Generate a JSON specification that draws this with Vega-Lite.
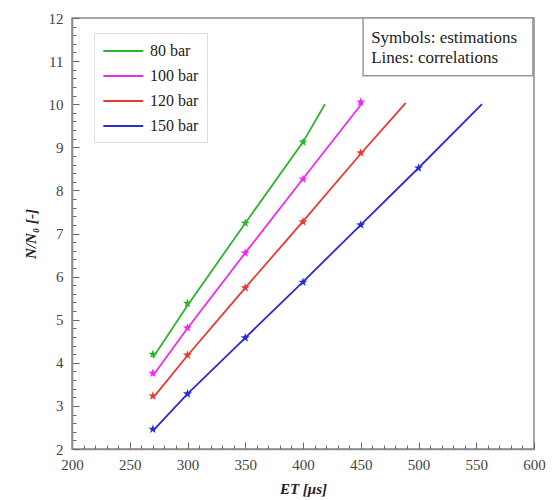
{
  "$schema": "https://vega.github.io/schema/vega-lite/v6.json",
  "width": 462,
  "height": 431,
  "autosize": {"type": "none"},
  "padding": {"left": 72, "top": 18, "right": 18, "bottom": 51},
  "background": "white",
  "config": {
    "font": "Times New Roman, Liberation Serif, DejaVu Serif, serif",
    "view": {"stroke": "#8a8a8a", "strokeWidth": 1.5},
    "axis": {
      "labelFont": "Times New Roman, Liberation Serif, DejaVu Serif, serif",
      "labelFontSize": 15,
      "labelColor": "#444",
      "titleFont": "Times New Roman, Liberation Serif, DejaVu Serif, serif",
      "titleFontSize": 15,
      "titleColor": "#222",
      "domainColor": "#8a8a8a",
      "domainWidth": 1.5,
      "tickColor": "#666",
      "tickWidth": 1,
      "grid": false
    },
    "legend": {
      "labelFont": "Times New Roman, Liberation Serif, DejaVu Serif, serif",
      "labelFontSize": 16,
      "labelColor": "#222"
    },
    "text": {"font": "Times New Roman, Liberation Serif, DejaVu Serif, serif"}
  },
  "datasets": {
    "corr": [
      {"series": "80 bar", "ET": 270, "N": 4.12},
      {"series": "80 bar", "ET": 300, "N": 5.33},
      {"series": "80 bar", "ET": 350, "N": 7.24},
      {"series": "80 bar", "ET": 400, "N": 9.12},
      {"series": "80 bar", "ET": 419, "N": 10.0},
      {"series": "100 bar", "ET": 270, "N": 3.7},
      {"series": "100 bar", "ET": 300, "N": 4.8},
      {"series": "100 bar", "ET": 350, "N": 6.55},
      {"series": "100 bar", "ET": 400, "N": 8.27},
      {"series": "100 bar", "ET": 452, "N": 10.05},
      {"series": "120 bar", "ET": 270, "N": 3.18},
      {"series": "120 bar", "ET": 300, "N": 4.17},
      {"series": "120 bar", "ET": 350, "N": 5.74},
      {"series": "120 bar", "ET": 400, "N": 7.28},
      {"series": "120 bar", "ET": 450, "N": 8.85},
      {"series": "120 bar", "ET": 489, "N": 10.03},
      {"series": "150 bar", "ET": 270, "N": 2.42},
      {"series": "150 bar", "ET": 300, "N": 3.28},
      {"series": "150 bar", "ET": 350, "N": 4.58},
      {"series": "150 bar", "ET": 400, "N": 5.88},
      {"series": "150 bar", "ET": 450, "N": 7.2},
      {"series": "150 bar", "ET": 500, "N": 8.52},
      {"series": "150 bar", "ET": 555, "N": 10.0}
    ],
    "est": [
      {"series": "80 bar", "ET": 270, "N": 4.2},
      {"series": "80 bar", "ET": 300, "N": 5.38},
      {"series": "80 bar", "ET": 350, "N": 7.24},
      {"series": "80 bar", "ET": 400, "N": 9.12},
      {"series": "100 bar", "ET": 270, "N": 3.76},
      {"series": "100 bar", "ET": 300, "N": 4.81},
      {"series": "100 bar", "ET": 350, "N": 6.55},
      {"series": "100 bar", "ET": 400, "N": 8.26},
      {"series": "100 bar", "ET": 450, "N": 10.05},
      {"series": "120 bar", "ET": 270, "N": 3.23},
      {"series": "120 bar", "ET": 300, "N": 4.18},
      {"series": "120 bar", "ET": 350, "N": 5.74},
      {"series": "120 bar", "ET": 400, "N": 7.27},
      {"series": "120 bar", "ET": 450, "N": 8.87},
      {"series": "150 bar", "ET": 270, "N": 2.46},
      {"series": "150 bar", "ET": 300, "N": 3.28},
      {"series": "150 bar", "ET": 350, "N": 4.58},
      {"series": "150 bar", "ET": 400, "N": 5.87},
      {"series": "150 bar", "ET": 450, "N": 7.2},
      {"series": "150 bar", "ET": 500, "N": 8.52}
    ],
    "box": [
      {"x1": 452, "x2": 599, "y1": 10.66, "y2": 12}
    ],
    "note": [
      {"ET": 459, "N": 11.53, "text": "Symbols: estimations"},
      {"ET": 459, "N": 11.07, "text": "Lines: correlations"}
    ]
  },
  "layer": [
    {
      "data": {"name": "corr"},
      "mark": {"type": "line", "strokeWidth": 1.8},
      "encoding": {
        "x": {
          "field": "ET", "type": "quantitative",
          "scale": {"domain": [200, 600], "nice": false, "zero": false},
          "axis": {
            "title": "ET [μs]",
            "titleFontWeight": "bold",
            "titleFontStyle": "italic",
            "titlePadding": 6,
            "labelOverlap": false,
            "labelFlush": false,
            "ticks": true,
            "tickCount": 200,
            "values": [200,210,220,230,240,250,260,270,280,290,300,310,320,330,340,350,360,370,380,390,400,410,420,430,440,450,460,470,480,490,500,510,520,530,540,550,560,570,580,590,600],
            "labelExpr": "datum.value % 50 === 0 ? datum.label : ''",
            "tickSize": {"condition": {"test": "datum.value % 50 === 0", "value": -7}, "value": -4},
            "labelPadding": 15
          }
        },
        "y": {
          "field": "N", "type": "quantitative",
          "scale": {"domain": [2, 12], "nice": false, "zero": false},
          "axis": {
            "title": "N/N₀ [-]",
            "titleFontWeight": "bold",
            "titleFontStyle": "italic",
            "titlePadding": 10,
            "labelOverlap": false,
            "ticks": true,
            "tickCount": 200,
            "values": [2,2.2,2.4,2.6,2.8,3,3.2,3.4,3.6,3.8,4,4.2,4.4,4.6,4.8,5,5.2,5.4,5.6,5.8,6,6.2,6.4,6.6,6.8,7,7.2,7.4,7.6,7.8,8,8.2,8.4,8.6,8.8,9,9.2,9.4,9.6,9.8,10,10.2,10.4,10.6,10.8,11,11.2,11.4,11.6,11.8,12],
            "labelExpr": "abs(datum.value - round(datum.value)) < 0.01 ? format(datum.value, 'd') : ''",
            "tickSize": {"condition": {"test": "abs(datum.value - round(datum.value)) < 0.01", "value": -7}, "value": -4},
            "labelPadding": 16
          }
        },
        "color": {
          "field": "series", "type": "nominal",
          "scale": {"domain": ["80 bar", "100 bar", "120 bar", "150 bar"], "range": ["#2cb52c", "#ee2aee", "#e83a34", "#2a2ad6"]},
          "sort": ["80 bar", "100 bar", "120 bar", "150 bar"],
          "legend": {
            "title": null,
            "orient": "none",
            "legendX": 22,
            "legendY": 15,
            "strokeColor": "#dddddd",
            "fillColor": "white",
            "padding": 8,
            "symbolType": "M-1,0H3.6",
            "symbolSize": 300,
            "symbolStrokeWidth": 2,
            "labelOffset": 28,
            "rowPadding": 7
          }
        }
      }
    },
    {
      "data": {"name": "est"},
      "mark": {"type": "point", "filled": true, "opacity": 1, "size": 90, "shape": "M0,-1L0.235,-0.324L0.951,-0.309L0.38,0.124L0.588,0.809L0,0.4L-0.588,0.809L-0.38,0.124L-0.951,-0.309L-0.235,-0.324Z"},
      "encoding": {
        "x": {"field": "ET", "type": "quantitative"},
        "y": {"field": "N", "type": "quantitative"},
        "color": {"field": "series", "type": "nominal", "legend": null}
      }
    },
    {
      "data": {"name": "box"},
      "mark": {"type": "rect", "fill": "white", "stroke": "#999", "strokeWidth": 1.5},
      "encoding": {
        "x": {"field": "x1", "type": "quantitative"},
        "x2": {"field": "x2"},
        "y": {"field": "y1", "type": "quantitative"},
        "y2": {"field": "y2"}
      }
    },
    {
      "data": {"name": "note"},
      "mark": {"type": "text", "align": "left", "baseline": "middle", "fontSize": 17, "color": "#222"},
      "encoding": {
        "x": {"field": "ET", "type": "quantitative"},
        "y": {"field": "N", "type": "quantitative"},
        "text": {"field": "text"}
      }
    }
  ]
}
